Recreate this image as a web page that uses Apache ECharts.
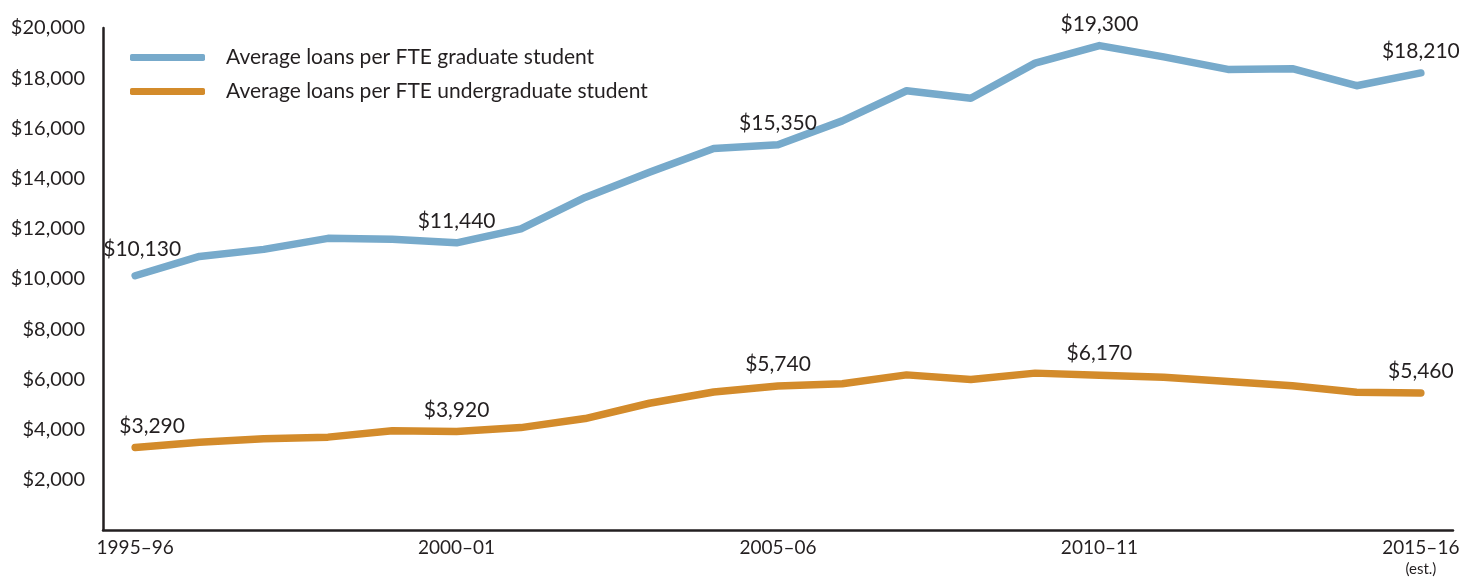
<!DOCTYPE html>
<html>
<head>
<meta charset="utf-8">
<script src="https://cdn.jsdelivr.net/npm/echarts@6/dist/echarts.min.js"></script>
<style>
  html, body { margin: 0; padding: 0; background: #fff; }
  #chart { width: 1473px; height: 577px; }
</style>
</head>
<body>
<div id="chart"></div>
<script>
var years = ['1995–96','1996–97','1997–98','1998–99','1999–00','2000–01','2001–02','2002–03','2003–04','2004–05',
             '2005–06','2006–07','2007–08','2008–09','2009–10','2010–11','2011–12','2012–13','2013–14','2014–15','2015–16\n(est.)'];
var gradLoans = [10130, 10900, 11180, 11620, 11580, 11440, 12000, 13250, 14250, 15200,
                 15350, 16300, 17500, 17200, 18600, 19300, 18850, 18350, 18380, 17700, 18210];
var undergradLoans = [3290, 3500, 3640, 3700, 3950, 3920, 4080, 4440, 5050, 5500,
                      5740, 5830, 6180, 6000, 6250, 6170, 6090, 5920, 5750, 5490, 5460];
var labeledIdx = [0, 5, 10, 15, 20];

var textColor = '#231f20';
var font = 'Lato, "Open Sans", sans-serif';

function money(v) {
    return '$' + v.toLocaleString('en-US');
}

// only a few points carry a value label; offsets nudge a couple of them like the original
function withLabels(values, offsets) {
    return values.map(function (v, i) {
        var lbl = { show: labeledIdx.indexOf(i) >= 0 };
        if (offsets && offsets[i]) lbl.offset = offsets[i];
        return { value: v, label: lbl };
    });
}

var valueLabel = {
    position: 'top',
    distance: 11,
    fontSize: 21,
    color: textColor,
    fontFamily: font,
    formatter: function (p) { return money(p.value); }
};

var option = {
    backgroundColor: '#fff',
    textStyle: { fontFamily: font, color: textColor },
    animation: false,
    grid: {
        left: 103,
        right: 20,
        top: 28,
        bottom: 47,
        outerBoundsMode: 'none'
    },
    legend: {
        orient: 'vertical',
        left: 130,
        top: 47,
        padding: 0,
        itemWidth: 75,
        itemHeight: 7,
        itemGap: 13,
        icon: 'roundRect',
        textStyle: { fontSize: 21, color: textColor, fontFamily: font, padding: [0, 0, 0, 16] },
        data: ['Average loans per FTE graduate student', 'Average loans per FTE undergraduate student']
    },
    xAxis: {
        type: 'category',
        boundaryGap: true,
        data: years,
        axisTick: { show: false },
        axisLine: { lineStyle: { color: textColor, width: 2.5 } },
        axisLabel: {
            interval: 4,
            margin: 7,
            fontSize: 19,
            lineHeight: 22,
            color: textColor,
            fontFamily: font,
            formatter: function (v) {
                var parts = v.split('\n');
                return parts.length > 1 ? parts[0] + '\n{est|' + parts[1] + '}' : v;
            },
            rich: {
                est: { fontSize: 15, lineHeight: 20, color: textColor, fontFamily: font }
            }
        }
    },
    yAxis: {
        type: 'value',
        min: 0,
        max: 20000,
        interval: 2000,
        splitLine: { show: false },
        axisTick: { show: false },
        axisLine: { show: true, lineStyle: { color: textColor, width: 2.5 } },
        axisLabel: {
            margin: 18,
            fontSize: 20,
            color: textColor,
            fontFamily: font,
            formatter: function (v) { return v === 0 ? '' : money(v); }
        }
    },
    series: [
        {
            name: 'Average loans per FTE graduate student',
            type: 'line',
            symbol: 'circle',
            symbolSize: 0,
            showSymbol: true,
            color: '#77aacb',
            lineStyle: { width: 7.5, cap: 'round', join: 'round' },
            label: valueLabel,
            data: withLabels(gradLoans, { 0: [7, -5] })
        },
        {
            name: 'Average loans per FTE undergraduate student',
            type: 'line',
            symbol: 'circle',
            symbolSize: 0,
            showSymbol: true,
            color: '#d38b2b',
            lineStyle: { width: 7.5, cap: 'round', join: 'round' },
            label: valueLabel,
            data: withLabels(undergradLoans, { 0: [17, 0] })
        }
    ]
};

var chart = echarts.init(document.getElementById('chart'));
chart.setOption(option);
</script>
</body>
</html>
